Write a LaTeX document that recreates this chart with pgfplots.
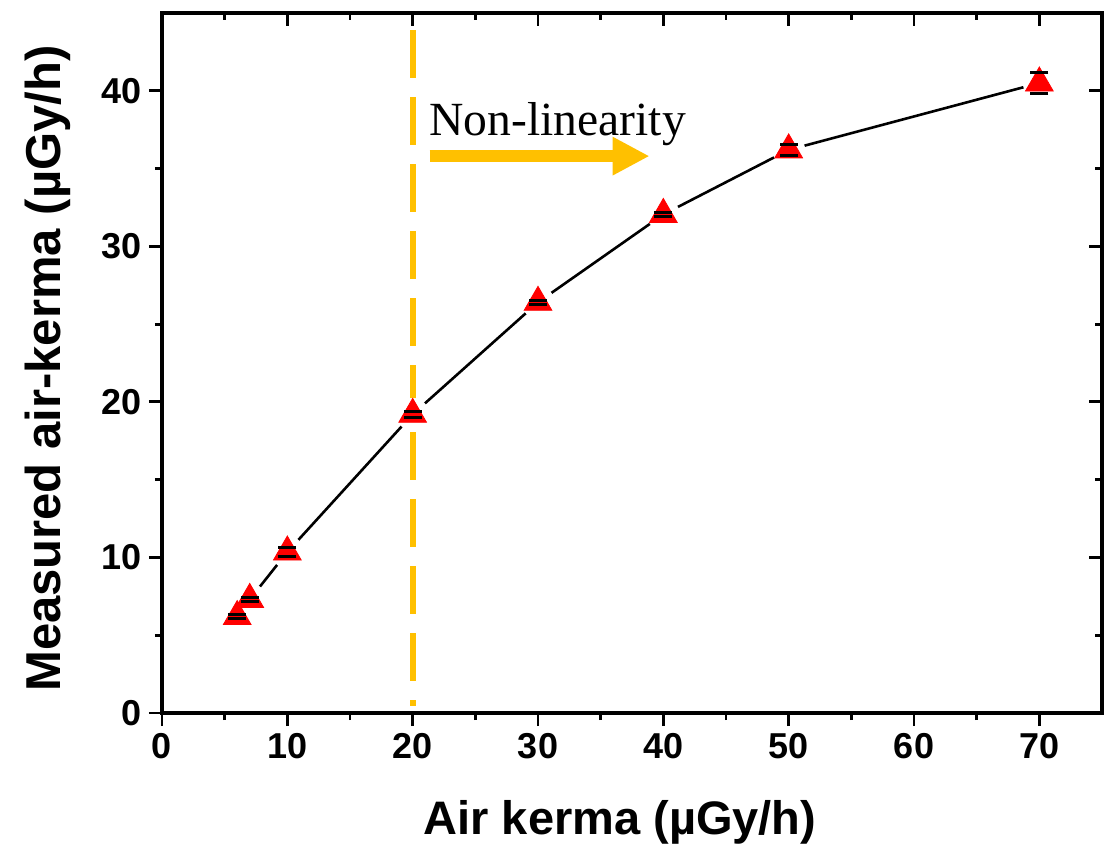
\documentclass[border=0pt]{standalone}
\usepackage{fontspec}
\setmainfont{Liberation Sans}
\newfontfamily\serif{Liberation Serif}
\usepackage{pgfplots}
\pgfplotsset{compat=1.18}
\usetikzlibrary{arrows.meta}
\definecolor{gold}{RGB}{255,192,0}

\pgfplotstableread{
x     y
6     6.2
7     7.3
10    10.35
20    19.2
30    26.4
40    32.05
50    36.2
70    40.5
}\kerma

% lower and upper ends of the error bars
\pgfplotstableread{
x     y
6     6.08
6     6.32
7     7.18
7     7.42
10    10.05
10    10.65
20    19.0
20    19.4
30    26.25
30    26.55
40    31.9
40    32.2
50    35.85
50    36.55
70    39.8
70    41.2
}\ends

\begin{document}
\begin{tikzpicture}
\useasboundingbox (-81pt,-67.5pt) rectangle (477.5pt,356.5pt);
\pgfplotsset{
  common/.style={
    scale only axis, width=470pt, height=350pt,
    xmin=0, xmax=75, ymin=0, ymax=45,
    xtick={0,10,...,70}, ytick={0,10,...,40},
    minor x tick num=1, minor y tick num=1,
    axis line style={line width=1.6pt},
    every tick/.style={black, line width=1.4pt},
    major tick length=6.5pt, minor tick length=3.5pt,
  }
}
\begin{axis}[common,
  tick align=outside,
  xtick pos=lower, ytick pos=left,
  /pgf/number format/assume math mode=true,
  ticklabel style={font=\fontsize{18}{18}\selectfont\bfseries},
  xlabel={Air kerma (µGy/h)},
  ylabel={Measured air-kerma (µGy/h)},
  xlabel style={font=\fontsize{23.5}{24}\selectfont\bfseries,
    at={(axis description cs:0.4872,-0.1557)}, anchor=center},
  ylabel style={font=\fontsize{24.5}{25}\selectfont\bfseries,
    at={(axis description cs:-0.1213,0.492)}, anchor=center, rotate=0},
  clip=false,
]
% connecting line with gaps around the markers
\addplot[black, line width=1.3pt] table[x=x, y=y] {\kerma};
\addplot[only marks, mark=*, mark size=8pt, color=white] table[x=x, y=y] {\kerma};
\addplot[only marks, mark=triangle*, mark size=8pt, color=red] table[x=x, y=y] {\kerma};
% threshold line
\draw[gold, line width=3pt, dash pattern=on 24pt off 9.5pt] (axis cs:20,43.9) -- (axis cs:20,0.45);
% error bars: vertical stems and caps
\addplot[black, line width=1.5pt, mark=none, unbounded coords=jump] coordinates {
  (6,6.08) (6,6.32) (6,nan)
  (7,7.18) (7,7.42) (7,nan)
  (10,10.05) (10,10.65) (10,nan)
  (20,19.0) (20,19.4) (20,nan)
  (30,26.25) (30,26.55) (30,nan)
  (40,31.9) (40,32.2) (40,nan)
  (50,35.85) (50,36.55) (50,nan)
  (70,39.8) (70,41.2)
};
\addplot[black, only marks, mark=-, mark size=4.5pt, mark options={line width=1.5pt}] table[x=x, y=y] {\ends};
\node[anchor=base west, inner sep=0pt, font=\serif\fontsize{23.8}{24}\selectfont] at (axis cs:21.3,37.1) {Non-linearity};
\draw[gold, line width=6pt, -{Triangle[length=18.5pt, width=18pt]}] (axis cs:21.35,35.8) -- (axis cs:38.9,35.8);
\end{axis}
\begin{axis}[common,
  tick align=inside,
  xtick pos=upper, ytick pos=right,
  xticklabels={}, yticklabels={},
]
\end{axis}
\end{tikzpicture}
\end{document}
